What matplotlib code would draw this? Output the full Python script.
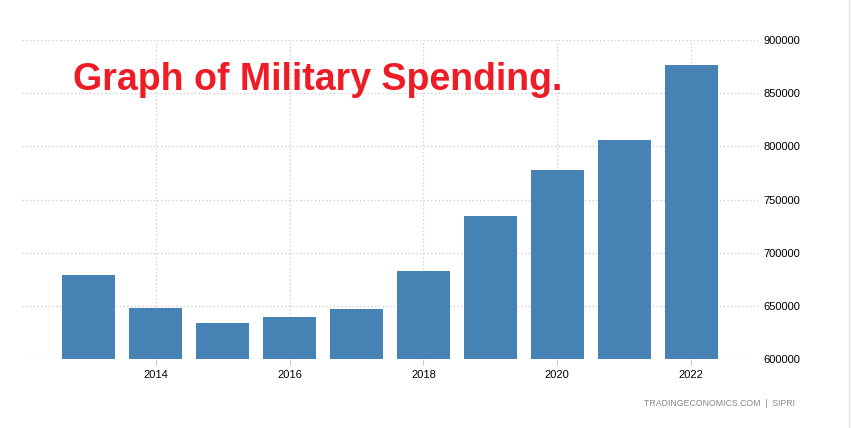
import matplotlib.pyplot as plt
from matplotlib.lines import Line2D

# US military spending (USD million), SIPRI
years = [2013, 2014, 2015, 2016, 2017, 2018, 2019, 2020, 2021, 2022]
spending = [679200, 647800, 633800, 639900, 646800, 682500, 734300, 778200, 806200, 876900]
year_ticks = [2014, 2016, 2018, 2020, 2022]
value_ticks = [600000, 650000, 700000, 750000, 800000, 850000, 900000]

fig = plt.figure(figsize=(8.52, 4.28), dpi=100)
ax = fig.add_axes([22 / 852, 1 - 359 / 428, (758 - 22) / 852, (359 - 40) / 428])

ax.bar(years, spending, width=0.79, color="#4682B4", zorder=2)

ax.set_xlim(2012.0, 2023.0)
ax.set_ylim(600000, 900000)
ax.set_xticks(year_ticks)
ax.set_xticklabels([str(y) for y in year_ticks])
ax.set_yticks(value_ticks)
ax.set_yticklabels([str(v) for v in value_ticks])

ax.yaxis.tick_right()
ax.tick_params(axis="y", length=0, pad=4, labelsize=8, labelcolor="black")
ax.tick_params(axis="x", length=4, color="#cccccc", pad=4, labelsize=8, labelcolor="black")
for lab in ax.get_xticklabels() + ax.get_yticklabels():
    lab.set_fontfamily("Liberation Sans")

for s in ax.spines.values():
    s.set_visible(False)
ax.grid(True, linestyle=(0, (1, 2)), color="#c8c8c8", linewidth=0.9, zorder=0)
ax.set_axisbelow(True)

title = fig.text(73 / 852, 1 - 80 / 428, "Graph of Military Spending.", color="#EE1C25",
                 fontsize=28, fontweight="bold", family="Liberation Sans", va="center", ha="left")
# fit title width to about 490 px
fig.canvas.draw()
w = title.get_window_extent().width
title.set_fontsize(28 * 490 / w)

fig.text(795 / 852, 1 - 403 / 428, "TRADINGECONOMICS.COM  |  SIPRI", color="#888888",
         fontsize=6.3, family="Liberation Sans", va="center", ha="right")

fig.add_artist(Line2D([848.5 / 852, 848.5 / 852], [0, 1], color="#e6e6e6", linewidth=1,
                      transform=fig.transFigure))

fig.savefig("out.png", dpi=100)
